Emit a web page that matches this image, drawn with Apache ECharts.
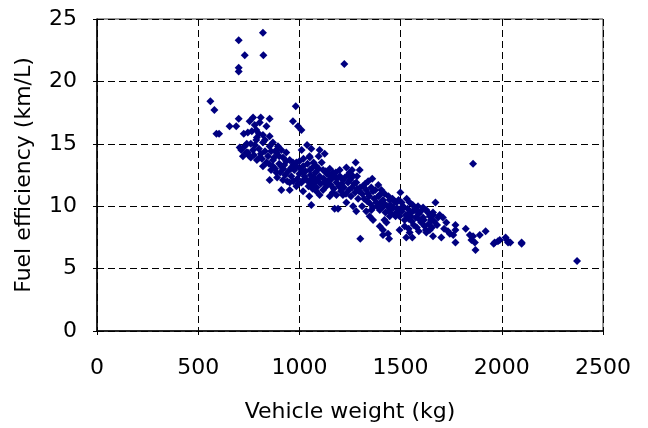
<!DOCTYPE html>
<html>
<head>
    <meta charset="UTF-8">
    <script src="https://cdn.jsdelivr.net/npm/echarts@6/dist/echarts.min.js"></script>
    <style>
        html, body { margin: 0; padding: 0; background: #fff; }
        #main { width: 648px; height: 428px; }
    </style>
</head>
<body>
<div id="main"></div>
<script type="text/javascript">
    // vehicle weight (kg) and fuel efficiency (km/L)
    var weight = [
        700, 820, 730, 822, 700, 700, 1222, 560, 580, 590, 603, 982, 968, 993, 1010, 1858, 2372, 1301, 1059,
        655, 688, 700, 771, 809, 853, 725, 745, 754, 779, 804, 787, 820, 853, 837, 765, 790, 787, 820, 853, 886,
        869, 894, 911, 935, 730, 738, 754, 771, 713, 721, 705, 740, 760, 780, 800, 810, 830, 845, 760, 790,
        804, 820, 837, 869, 886, 853, 886, 919, 952, 935, 968, 985, 870, 900, 920, 745, 775, 815, 850, 860,
        880, 800, 830, 860, 875, 900, 910,
        1011, 1038, 1059, 1100, 1125, 1050, 985, 1018, 1051,
        919, 952, 911, 952, 985, 1018, 1018, 1051, 1084, 1117, 930, 945, 960, 975, 990, 1000, 1005, 1010, 1025, 1035,
        1040, 1045, 1055, 1060, 1065, 1070, 1075, 1080, 1090, 1095, 1100, 1105, 1049, 1084, 1100, 940, 970, 995, 1030, 1060,
        1085, 925, 960, 1000, 1020, 1070, 1110, 1095, 890, 905, 970, 1015, 1045, 1065,
        1117, 1133, 1150, 1183, 1215, 1174, 1191, 1166, 1199, 1232, 1248, 1183, 1215, 1281, 1298, 1265, 1278, 1120, 1130, 1140,
        1145, 1155, 1160, 1170, 1175, 1185, 1195, 1200, 1205, 1210, 1220, 1225, 1230, 1240, 1245, 1250, 1255, 1260, 1270, 1275,
        1285, 1290, 1295, 1232, 1265, 1281, 1135, 1150, 1165, 1125, 1180, 1240, 1260, 1285,
        1314, 1331, 1360, 1364, 1397, 1413, 1421, 1446, 1479, 1512, 1499, 1380, 1364, 1397, 1446, 1479, 1495, 1347, 1364, 1356,
        1446, 1430, 1397, 1413, 1413, 1443, 1438, 1310, 1320, 1325, 1335, 1340, 1345, 1350, 1355, 1370, 1375, 1385, 1390, 1400,
        1405, 1410, 1420, 1425, 1435, 1440, 1450, 1455, 1460, 1465, 1470, 1475, 1485, 1490, 1310, 1330, 1300, 1340, 1390, 1420,
        1528, 1558, 1545, 1495, 1520, 1602, 1619, 1611, 1635, 1660, 1644, 1586, 1570, 1545, 1545, 1578, 1611, 1627, 1660, 1685,
        1672, 1693, 1709, 1726, 1505, 1515, 1525, 1535, 1540, 1550, 1555, 1560, 1565, 1575, 1580, 1590, 1595, 1600, 1615, 1625,
        1640, 1650, 1655, 1665, 1680, 1505, 1530, 1560, 1520, 1540, 1590,
        1644, 1660, 1627, 1701, 1734, 1743, 1771, 1771, 1771, 1822, 1842, 1858, 1867, 1870, 1891, 1920, 1965, 1981, 1990, 2019,
        2031, 2042, 2098, 2098, 1715, 1760, 1850, 1960, 2025
    ];
    var efficiency = [
        23.3, 23.9, 22.1, 22.1, 21.1, 20.8, 21.4, 18.4, 17.7, 15.8, 15.8, 18.0, 16.8, 16.4, 16.1, 13.4, 5.6, 7.4, 10.1,
        16.4, 16.4, 17.0, 17.1, 17.1, 17.0, 15.8, 15.9, 16.8, 16.5, 16.7, 16.1, 15.7, 15.6, 16.4, 16.0, 15.5, 15.3, 15.1, 14.8, 14.5,
        15.1, 14.8, 14.5, 14.3, 14.8, 14.3, 14.0, 14.5, 14.5, 14.0, 14.7, 15.0, 15.0, 14.9, 14.6, 14.2, 14.4, 14.0, 13.9, 13.7,
        13.9, 13.2, 13.5, 13.2, 12.7, 12.1, 14.3, 13.9, 13.7, 13.6, 13.5, 13.2, 13.7, 13.4, 13.0, 14.3, 14.1, 13.8, 13.4, 12.9,
        13.0, 15.8, 15.3, 14.4, 13.9, 14.0, 13.2,
        14.5, 14.9, 14.6, 14.5, 14.2, 14.0, 13.5, 13.2, 13.9,
        12.1, 11.9, 11.3, 11.3, 11.6, 11.2, 12.7, 12.9, 13.2, 12.9, 12.5, 12.8, 12.4, 12.9, 12.2, 12.6, 13.0, 11.9, 12.4, 12.1,
        13.4, 12.0, 12.5, 11.7, 13.1, 12.3, 11.9, 12.7, 12.1, 13.0, 12.4, 11.8, 10.8, 11.2, 10.9, 12.0, 12.0, 11.8, 12.8, 12.2,
        11.5, 13.3, 13.1, 13.6, 13.8, 13.5, 13.5, 14.0, 12.3, 12.7, 13.3, 12.0, 11.6, 11.4,
        11.3, 11.6, 10.8, 10.9, 10.9, 9.8, 9.8, 12.7, 12.9, 13.1, 12.7, 11.9, 12.1, 11.9, 12.9, 12.4, 13.5, 12.2, 12.8, 12.0,
        12.5, 11.7, 12.2, 11.4, 12.4, 12.2, 11.6, 12.4, 11.2, 11.8, 11.5, 12.3, 11.0, 11.9, 11.3, 12.1, 10.8, 11.5, 11.8, 11.1,
        11.4, 10.6, 11.2, 10.3, 10.0, 9.6, 12.6, 13.0, 11.1, 11.9, 12.7, 12.5, 12.9, 12.4,
        11.6, 11.3, 12.2, 11.2, 10.9, 10.5, 11.0, 10.5, 10.3, 10.0, 11.1, 10.3, 9.9, 9.7, 9.7, 9.5, 9.2, 9.2, 8.9, 9.7,
        9.2, 8.7, 8.4, 8.1, 7.7, 7.4, 7.8, 11.0, 10.6, 11.8, 10.4, 11.0, 10.8, 10.2, 11.5, 10.6, 11.3, 10.0, 10.8, 10.3,
        11.3, 9.9, 10.2, 9.5, 10.0, 10.8, 10.1, 9.4, 10.6, 9.9, 10.4, 9.2, 9.8, 10.5, 10.0, 9.6, 11.5, 12.0, 11.7, 8.9,
        7.5, 7.5, 7.9, 8.1, 8.4, 8.7, 8.4, 9.1, 9.5, 9.3, 9.2, 10.0, 9.7, 9.5, 10.3, 9.7, 9.9, 9.7, 9.5, 9.1,
        10.3, 9.3, 9.1, 8.7, 9.6, 9.9, 9.3, 9.8, 9.0, 9.2, 8.8, 9.6, 8.5, 9.1, 8.3, 9.4, 8.9, 9.6, 8.9, 8.1,
        8.6, 8.9, 8.3, 8.8, 8.5, 10.3, 10.6, 10.1, 8.9, 8.2, 8.0,
        8.1, 7.6, 7.9, 7.5, 8.0, 7.8, 8.5, 8.1, 7.1, 8.2, 7.7, 7.6, 7.1, 6.5, 7.7, 8.0, 7.1, 7.2, 7.3, 7.5,
        7.1, 7.1, 7.1, 7.0, 8.2, 7.7, 7.3, 7.0, 7.3
    ];

    var points = [];
    for (var i = 0; i < weight.length; i++) {
        points.push([weight[i], efficiency[i]]);
    }

    var font = 'DejaVu Sans';
    var myChart = echarts.init(document.getElementById('main'));
    var option = {
        animation: false,
        backgroundColor: '#fff',
        grid: {
            left: 97, right: 45, top: 19, bottom: 96,
            show: true, borderColor: '#333', borderWidth: 1
        },
        xAxis: {
            type: 'value',
            min: 0, max: 2500, interval: 500,
            name: 'Vehicle weight (kg)',
            nameLocation: 'middle',
            nameGap: 70,
            nameTextStyle: {fontFamily: font, fontSize: 22, color: '#000'},
            axisLine: {show: true, lineStyle: {color: '#000', width: 1.5}},
            axisTick: {show: true, length: 4, lineStyle: {color: '#000'}},
            axisLabel: {
                fontFamily: font, fontSize: 22, color: '#000', margin: 26,
                formatter: function (v) { return String(v); }
            },
            splitLine: {show: true, lineStyle: {color: '#000', type: [7, 4], width: 1}}
        },
        yAxis: {
            type: 'value',
            min: 0, max: 25, interval: 5,
            name: 'Fuel efficiency (km/L)',
            nameLocation: 'middle',
            nameGap: 62,
            nameTextStyle: {fontFamily: font, fontSize: 22, color: '#000'},
            axisLine: {show: true, lineStyle: {color: '#000', width: 1.5}},
            axisTick: {show: true, length: 4, lineStyle: {color: '#000'}},
            axisLabel: {
                fontFamily: font, fontSize: 22, color: '#000', margin: 20,
                formatter: function (v) { return String(v); }
            },
            splitLine: {show: true, lineStyle: {color: '#000', type: [7, 4], width: 1}}
        },
        series: [{
            type: 'scatter',
            symbol: 'diamond',
            symbolSize: 8,
            itemStyle: {color: '#000080', opacity: 1},
            data: points
        }]
    };
    myChart.setOption(option);
</script>
</body>
</html>
